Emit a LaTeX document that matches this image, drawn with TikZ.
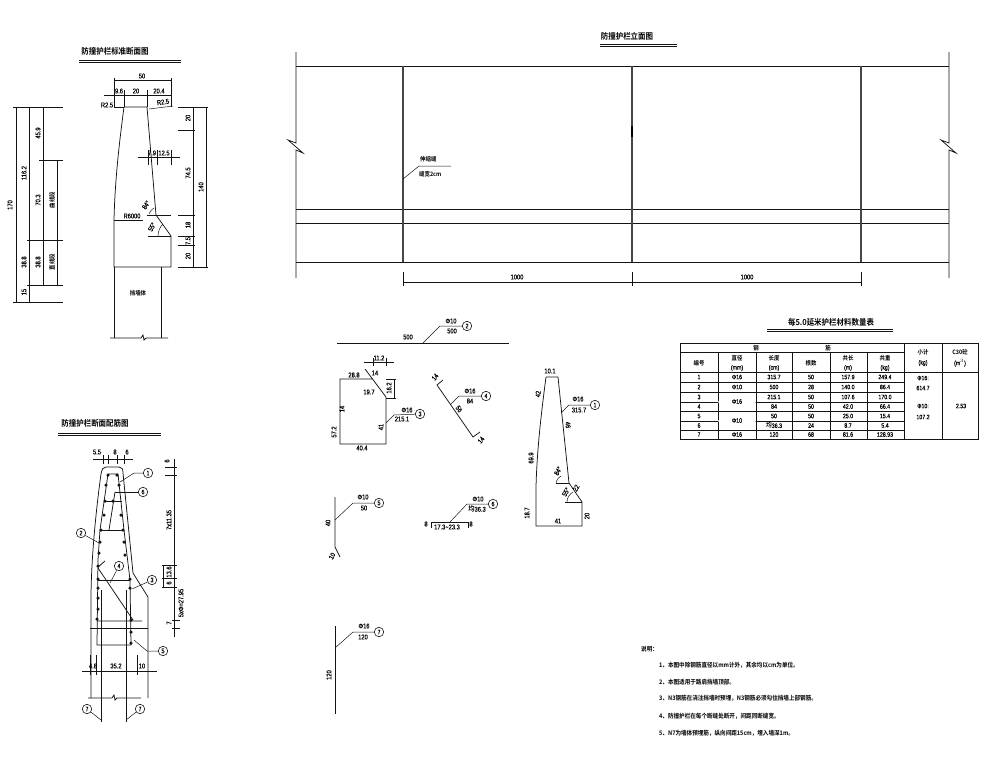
\documentclass[tikz,border=0pt]{standalone}
\usepackage{fontspec}
\usepackage{xcolor}
\setmainfont[FakeStretch=0.82,FakeBold=0.35]{Liberation Sans}
\newfontfamily\cjk[FakeStretch=0.9]{Noto Sans CJK SC Bold}
\usetikzlibrary{positioning, calc}
\definecolor{inkline}{RGB}{20, 20, 20}
\definecolor{jointgray}{RGB}{70, 70, 70}
\tikzset{
    body/.style={inkline, line width=0.75pt},
    dimline/.style={inkline, line width=0.5pt},
    lbl/.style={inner sep=0pt, font=\fontsize{7}{8}\selectfont},
    zh/.style={inner sep=0pt, font=\cjk\fontsize{6}{7}\selectfont},
    titletxt/.style={inner sep=0pt, font=\cjk\fontsize{8.3}{9}\selectfont},
    notetxt/.style={inner sep=0pt, anchor=west, font=\cjk\fontsize{6.2}{7}\selectfont},
    tabtxt/.style={inner sep=0pt, font=\fontsize{6.4}{7}\selectfont},
    circ/.style={draw=inkline, circle, inner sep=0pt, minimum size=9.5pt, line width=0.6pt, font=\fontsize{6.5}{7}\selectfont},
    rebar/.style={fill=inkline, circle, inner sep=0pt, minimum size=3.5pt},
}

\begin{document}
\begin{tikzpicture}[x=1pt, y=-1pt]
    \useasboundingbox (0,0) rectangle (987,758);

    % Titles
    \node[titletxt] (titleStd) at (115,51) {防撞护栏标准断面图};
    \node[titletxt] (titleBar) at (95,423) {防撞护栏断面配筋图};
    \node[titletxt] (titleElev) at (627,36) {防撞护栏立面图};
    \node[titletxt] (titleTab) at (831,322) {每5.0延米护栏材料数量表};
    \foreach \xa/\xb/\yy in {79/181/60, 58/161/433, 600/677/44, 767/893/329}{
        \draw[dimline, line width=0.7pt] (\xa,\yy) -- (\xb,\yy);
        \draw[dimline, line width=0.7pt] (\xa,\yy+2) -- (\xb,\yy+2);
    }

    % Standard section outline
    \draw[body] (124,107) -- (147,107) -- (156,215) -- (171,236) -- (171,267) -- (114,267)
        -- (114,220) .. controls (115,180) and (119,145) .. (124,107);
    \draw[body] (114,267) -- (114,338) (161,267) -- (161,338);
    \draw[body] (110,338) -- (141,338) -- (143,335) -- (144,340) -- (146,338) -- (168,338);

    % Standard section top dims
    \draw[dimline] (114,80) -- (171,80) (104,95) -- (171,95);
    \foreach \xx/\ya/\yb in {114/78/107, 171/78/107, 124/90/107, 147/90/107}
        \draw[dimline] (\xx,\ya) -- (\xx,\yb);
    \draw[dimline] (149,109) -- (173,106);
    \draw[dimline] (114,107) -- (124,107);
    \draw[dimline] (138,157) -- (180,157);
    \foreach \xx in {148,157,171}
        \draw[dimline] (\xx,150) -- (\xx,165);
    \draw[dimline] (147,215) -- (171,215) (148,236) -- (171,236);
    \draw[dimline] (114,220) -- (143,220);
    \draw[dimline] (149,214) .. controls (150,211) and (152,209) .. (154,208);
    \draw[dimline] (158,236) .. controls (158,231) and (160,227) .. (163,224);

    % Standard section side dims
    \draw[dimline] (13,107) -- (63,107) (39,160) -- (63,160) (27,240) -- (63,240) (27,285) -- (63,285);
    \draw[body, line width=1pt] (13,302) -- (63,302);
    \draw[dimline] (16,107) -- (16,302) (29,107) -- (29,302) (43,107) -- (43,285) (57,160) -- (57,285);
    \draw[dimline] (178,107) -- (208,107) (178,130) -- (195,130) (178,215) -- (195,215)
        (178,236) -- (195,236) (178,245) -- (195,245) (178,267) -- (208,267);
    \draw[dimline] (193,107) -- (193,267) (206,107) -- (206,267);

    % Standard section labels
    \foreach \t/\xx/\yy/\rr [count=\k] in {
        50/142/76/0, 9.6/119/91/0, 20/136/91/0, 20.4/159/91/0, R2.5/107/105/0, R2.5/163/102/8,
        7.9/152/153/0, 12.5/164/153/0, R6000/132/216/0, 84°/146/205/55, 55°/152/227/60,
        170/10/205/90, 116.2/24/173/90, 45.9/38/133/90, 70.3/38/200/90, 38.8/38/262/90, 38.8/24/262/90, 15/24/292/90,
        20/188/118/90, 74.5/188/173/90, 18/188/225/90, 7.5/188/241/90, 20/188/256/90, 140/201/187/90}
        \node[lbl, rotate=\rr] (stdL\k) at (\xx,\yy) {\t};
    \node[zh, rotate=90] (curveSeg) at (52,200) {曲线段};
    \node[zh, rotate=90] (lineSeg) at (52,262) {直线段};
    \node[zh] (wallBody) at (138,293) {挡墙体};

    % Reinforcement section outline
    \draw[body] (91,698) -- (91,600) .. controls (91,560) and (96,510) .. (101,474)
        .. controls (102,469) and (103,467) .. (106,467) -- (119,467)
        .. controls (122,467) and (123,469) .. (123,473) -- (133,573) -- (148,597) -- (148,698);
    \draw[body, line width=1pt] (90,628) -- (148,628);
    \draw[body] (88,698) -- (112,698) -- (114,695) -- (115,700) -- (117,698) -- (141,698);
    % cage
    \draw[body] (108,474) -- (118,474) -- (124,530) -- (130,580) -- (131,645) -- (97,645)
        -- (98,560) -- (100,530) -- (108,474);
    \draw[body] (104,501) -- (122,501) (101,530) -- (124,530) (98,580) -- (130,580);
    \draw[body] (98,568) -- (133,620) (98,567) -- (105,561) (97,621) -- (142,621);
    \draw[body] (101,590) -- (101,722) (126,590) -- (126,722);
    \draw[body] (115,492) -- (109,530);
    \foreach \xx/\yy [count=\k] in {108/475, 117/475, 106/485, 119/485, 105/501, 113/501, 104/515, 121/515, 101/530, 123/530,
        100/542, 99/553, 124/542, 125/555, 98/566, 98/579, 130/579, 130/588, 98/588, 98/598, 98/609, 97/619,
        131/620, 131/632, 131/643}
        \node[rebar] (dot\k) at (\xx,\yy) {};

    % Reinforcement section callouts
    \node[circ] (barA) at (148,473) {1};
    \node[circ] (barB) at (81,533) {2};
    \node[circ] (barC) at (152,580) {3};
    \node[circ] (barD) at (119,566) {4};
    \node[circ] (barE) at (163,651) {5};
    \node[circ] (barF) at (143,492) {6};
    \node[circ] (barGl) at (87,709) {7};
    \node[circ] (barGr) at (140,709) {7};
    \coordinate (tipA) at (120,482);
    \coordinate (tipB) at (99,543);
    \coordinate (tipC) at (132,589);
    \coordinate (tipD) at (110,583);
    \coordinate (tipE) at (134,640);
    \coordinate (tipF) at (115,492);
    \coordinate (tipGl) at (101,720);
    \coordinate (tipGr) at (126,720);
    \draw[dimline] (tipA) -- (134,473) -- (barA);
    \draw[dimline] (tipB) -- (barB);
    \draw[dimline] (tipC) -- (barC);
    \draw[dimline] (tipD) -- (barD);
    \draw[dimline] (tipE) -- (147,651) -- (barE);
    \draw[dimline] (tipF) -- (barF);
    \draw[dimline] (tipGl) -- (barGl);
    \draw[dimline] (tipGr) -- (barGr);

    % Reinforcement section dims
    \draw[dimline] (93,459) -- (133,459) (82,671) -- (157,671);
    \foreach \xx in {103,108,117,124}
        \draw[dimline] (\xx,455) -- (\xx,464);
    \foreach \xx in {90,96,137}
        \draw[dimline] (\xx,655) -- (\xx,675);
    \draw[dimline] (174,459) -- (174,637);
    \draw[dimline] (165,467) -- (177,467) (165,475) -- (177,475) (162,565) -- (177,565)
        (162,578) -- (177,578) (162,587) -- (177,587) (172,620) -- (180,620) (172,628) -- (180,628);
    \draw[dimline] (163,565) -- (163,588);
    \foreach \t/\xx/\yy/\rr [count=\k] in {
        5.5/97/452/0, 8/115/452/0, 6/127/452/0, 4.8/93/666/0, 35.2/116/666/0, 10/142/666/0,
        6/167/461/90, 7x11.35/169/520/90, 13.6/169/572/90, 6/169/583/90, 5xΦ=27.95/181/603/90, 7/169/623/90}
        \node[lbl, rotate=\rr] (barL\k) at (\xx,\yy) {\t};

    % Elevation
    \draw[body] (296,52) -- (296,143) -- (288,140) -- (303,153) -- (296,150) -- (296,278);
    \draw[body] (949,52) -- (949,143) -- (941,140) -- (956,153) -- (949,150) -- (949,278);
    \foreach \yy in {66,209,223,262}
        \draw[body] (296,\yy) -- (949,\yy);
    \foreach \xx in {403,632,861}{
        \draw[jointgray, line width=1.7pt] (\xx,66) -- (\xx,262);
        \draw[dimline] (\xx,272) -- (\xx,286);
    }
    \draw[black, line width=2.4pt] (632,126) -- (632,137);
    \node[zh, anchor=west] (jointName) at (420,159) {伸缩缝};
    \node[zh, anchor=west] (jointWidth) at (419,174) {缝宽2cm};
    \coordinate (jointTip) at (403,179);
    \coordinate (jointEnd) at (451,166);
    \draw[dimline] (jointTip) -- (419,166) -- (jointEnd);
    \draw[dimline] (403,282) -- (861,282);
    \node[lbl] (spanA) at (517,277) {1000};
    \node[lbl] (spanB) at (747,277) {1000};

    % N2
    \draw[body] (337,343) -- (509,343);
    \node[circ] (detB) at (467,326) {2};
    \coordinate (detBtip) at (423,343);
    \draw[dimline] (detBtip) -- (440,326) -- (detB);
    % N3
    \draw[body] (372,379) -- (340,379) -- (340,444) -- (386,444) -- (386,397) -- (365,369);
    \draw[dimline] (364,362) -- (394,362) (373,358) -- (373,366) (386,358) -- (386,366);
    \draw[dimline] (386,379) -- (396,379) (386,398) -- (396,398) (394,379) -- (394,398);
    \node[circ] (detC) at (420,414) {3};
    \coordinate (detCtip) at (386,423);
    \draw[dimline] (detCtip) -- (394,415) -- (detC);
    % N4
    \draw[body] (443,380) -- (437,385) -- (473,437) -- (480,432);
    \node[circ] (detD) at (486,396) {4};
    \coordinate (detDtip) at (451,404);
    \draw[dimline] (detDtip) -- (459,396) -- (detD);
    % N5
    \draw[body] (335,497) -- (335,547) -- (340,557);
    \node[circ] (detE) at (379,503) {5};
    \coordinate (detEtip) at (335,520);
    \draw[dimline] (detEtip) -- (353,503) -- (detE);
    % N6
    \draw[body] (431,528) -- (431,522) -- (468,522) -- (468,528);
    \node[circ] (detF) at (493,504) {6};
    \coordinate (detFtip) at (450,522);
    \draw[dimline] (detFtip) -- (467,504) -- (detF);
    % N7
    \draw[body] (335,626) -- (335,714);
    \node[circ] (detG) at (379,632) {7};
    \coordinate (detGtip) at (335,648);
    \draw[dimline] (detGtip) -- (353,632) -- (detG);
    % N1
    \draw[body] (546,377) -- (558,377) -- (569,483) -- (582,502) -- (582,526) -- (536,526)
        -- (536,487) .. controls (537,450) and (541,415) .. (546,377);
    \node[circ] (detA) at (595,405) {1};
    \coordinate (detAtip) at (561,413);
    \draw[dimline] (detAtip) -- (569,405) -- (detA);
    \draw[dimline] (556,483) -- (569,483) (565,502) -- (582,502);
    \draw[dimline] (556,483) .. controls (557,479) and (559,477) .. (561,476);
    \draw[dimline] (567,502) .. controls (567,497) and (570,494) .. (573,492);

    % Detail labels
    \foreach \t/\xx/\yy/\rr [count=\k] in {
        500/408/337/0, Φ10/451/321/0, 500/452/331/0,
        11.2/379/358/0, 14/375/373/0, 28.8/354/375/0, 19.7/369/392/0, 16.2/389/388/90, 57.2/334/432/90,
        14/342/409/90, 40.4/362/448/0, 41/381/427/90, Φ16/407/410/0, 215.1/402/419/0,
        14/435/377/50, 56/459/409/-55, 14/481/440/50, Φ16/470/391/0, 84/470/401/0,
        Φ10/363/497/0, 50/364/508/0, 40/328/523/90, 10/332/556/60,
        8/426/524/0, 8/471/524/0, 17.3\textasciitilde23.3/447/527/0, Φ10/478/499/0, {\cjk 均}36.3/477/509/0,
        Φ16/364/626/0, 120/363/637/0, 120/329/675/90,
        10.1/550/371/0, 42/538/394/85, 69.9/531/458/90, 18.7/527/513/90, 41/558/521/0, 20/587/516/90,
        46/568/425/-85, 84°/558/471/60, 55°/566/492/60, 22/576/488/60, Φ16/578/399/0, 315.7/579/410/0}
        \node[lbl, rotate=\rr] (detL\k) at (\xx,\yy) {\t};

    % Material table
    \draw[body] (680,343) rectangle (978,439);
    \draw[dimline, line width=0.6pt] (680,352) -- (904,352);
    \foreach \yy in {372,382,392,402,411,421,430}
        \draw[dimline, line width=0.6pt] (680,\yy) -- (904,\yy);
    \draw[dimline, line width=0.6pt] (904,372) -- (978,372);
    \foreach \xx in {718,756,792,830,867}
        \draw[dimline, line width=0.6pt] (\xx,352) -- (\xx,439);
    \foreach \xx in {904,942}
        \draw[body] (\xx,343) -- (\xx,439);
    \fill[white] (718.4,401) rectangle (755.6,403) (718.4,420) rectangle (755.6,422);
    \node[zh] (headBar) at (756,348) {钢};
    \node[zh] (headBarB) at (828,348) {筋};
    \foreach \t/\xx/\yy [count=\k] in {
        编号/699/363, 直径/737/358, 长度/774/358, 根数/811/363, 共长/848/358, 共重/885/358, 小计/923/352, C30砼/960/352}
        \node[zh] (head\k) at (\xx,\yy) {\t};
    \foreach \t/\xx/\yy [count=\k] in {
        (mm)/737/368, (cm)/774/368, (m)/848/368, (kg)/885/368, (kg)/923/363, (m$^3$)/960/363}
        \node[tabtxt] (unit\k) at (\xx,\yy) {\t};
    \foreach \rowy/\a/\b/\c/\d/\e/\f [count=\k] in {
        377/1/315.7/50/157.9/249.4/Φ16,
        387/2/500/28/140.0/86.4/Φ10,
        397/3/215.1/50/107.6/170.0/{},
        406.5/4/84/50/42.0/66.4/{},
        416/5/50/50/25.0/15.4/{},
        425.5/6/{\cjk 均}36.3/24/8.7/5.4/{},
        434.5/7/120/68/81.6/128.93/Φ16}{
        \node[tabtxt] (rowA\k) at (699,\rowy) {\a};
        \node[tabtxt] (rowB\k) at (737,\rowy) {\f};
        \node[tabtxt] (rowC\k) at (774,\rowy) {\b};
        \node[tabtxt] (rowD\k) at (811,\rowy) {\c};
        \node[tabtxt] (rowE\k) at (848,\rowy) {\d};
        \node[tabtxt] (rowF\k) at (885,\rowy) {\e};
    }
    \node[tabtxt] (mergeA) at (737,401.5) {Φ16};
    \node[tabtxt] (mergeB) at (737,420.5) {Φ10};
    \node[tabtxt] (sumA) at (923,378) {Φ16:};
    \node[tabtxt] (sumB) at (923,388) {614.7};
    \node[tabtxt] (sumC) at (923,406) {Φ10:};
    \node[tabtxt] (sumD) at (923,417) {107.2};
    \node[tabtxt] (sumE) at (961,406) {2.53};

    % Notes
    \node[notetxt] (noteHead) at (641,649) {说明：};
    \node[notetxt] (noteA) at (659,665) {1、本图中除钢筋直径以mm计外，其余均以cm为单位。};
    \node[notetxt] (noteB) at (659,682) {2、本图适用于路肩挡墙顶部。};
    \node[notetxt] (noteC) at (659,698) {3、N3钢筋在浇注挡墙时预埋，N3钢筋必须勾住挡墙上部钢筋。};
    \node[notetxt] (noteD) at (659,716) {4、防撞护栏在每个断缝处断开，间距同断缝宽。};
    \node[notetxt] (noteE) at (659,733) {5、N7为墙体预埋筋，纵向间距15cm，埋入墙深1m。};
\end{tikzpicture}
\end{document}
